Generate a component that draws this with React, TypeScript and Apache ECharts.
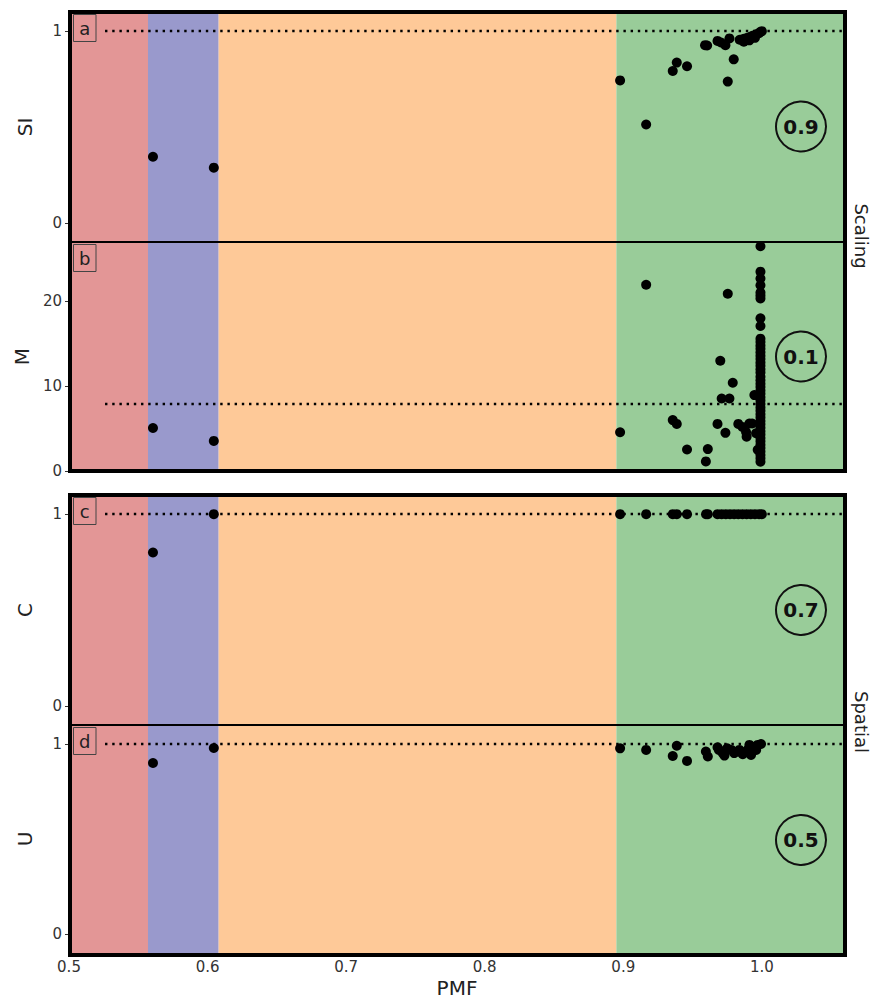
import React, { useEffect, useRef } from "react";
import * as echarts from "echarts";

// x axis
const xTicks = [0.5, 0.6, 0.7, 0.8, 0.9, 1.0];
const xMin = 0.5;
const xMax = 1.06;

// background regime bands
const bandEdges = [0.5, 0.557, 0.608, 0.895, 1.06];
const bandColors = ["#e39696", "#9999cc", "#fec998", "#99cc99"];

// panel labels / names
const panelLetters = ["a", "b", "c", "d"];
const panelNames = ["SI", "M", "C", "U"];
const panelScores = ["0.9", "0.1", "0.7", "0.5"];
const groupNames = ["Scaling", "Spatial"];
const refValues = [1, 7.9, 1, 1];
const refStartX = 0.526;

// y ticks per panel
const siTicks = [0, 1];
const mTicks = [0, 10, 20];
const cTicks = [0, 1];
const uTicks = [0, 1];

// Panel a: SI
const siX = [0.5606, 0.6045, 0.8977, 0.9165, 0.9357, 0.9386, 0.946, 0.959, 0.9605, 0.968, 0.9705, 0.9737, 0.9766, 0.9797, 0.9754, 0.984, 0.986, 0.988, 0.99, 0.992, 0.994, 0.996, 0.998, 0.999, 1.0, 0.987, 0.991, 0.995];
const siY = [0.345, 0.288, 0.743, 0.513, 0.792, 0.836, 0.817, 0.927, 0.925, 0.949, 0.941, 0.927, 0.962, 0.853, 0.737, 0.955, 0.958, 0.962, 0.966, 0.972, 0.978, 0.984, 0.99, 0.996, 1.0, 0.945, 0.952, 0.965];

// Panel b: M (scattered points)
const mX = [0.5606, 0.6045, 0.8977, 0.9165, 0.9754, 0.97, 0.979, 0.971, 0.9766, 0.9946, 0.9357, 0.9386, 0.968, 0.9737, 0.983, 0.986, 0.9886, 0.989, 0.991, 0.993, 0.9958, 0.997, 0.961, 0.9596, 0.946];
const mY = [5.07, 3.55, 4.57, 21.96, 20.9, 13.0, 10.4, 8.55, 8.55, 8.95, 6.0, 5.55, 5.55, 4.5, 5.55, 5.2, 4.6, 4.05, 5.6, 5.6, 4.45, 2.5, 2.58, 1.13, 2.53];
// Panel b: M values of the runs with PMF ~ 0.999
const mColumnX = 0.999;
const mColumnY = [26.5, 23.5, 22.7, 21.9, 21.05, 20.7, 20.35, 18.0, 17.1, 15.6, 15.2, 14.8, 14.4, 14.0, 13.6, 13.2, 12.8, 12.4, 12.0, 11.6, 11.1, 10.7, 10.3, 9.9, 9.5, 9.1, 8.7, 8.3, 7.9, 7.5, 7.1, 6.7, 6.3, 5.9, 5.5, 5.1, 4.7, 4.3, 3.9, 3.5, 3.1, 2.7, 2.3, 1.9, 1.5, 1.1];

// Panel c: C
const cX = [0.5606, 0.6045, 0.8977, 0.9165, 0.9357, 0.9386, 0.946, 0.9597, 0.961, 0.968, 0.971, 0.974, 0.977, 0.98, 0.983, 0.986, 0.989, 0.992, 0.995, 0.998, 1.0];
const cY = [0.8, 1, 1, 1, 1, 1, 1, 1, 1, 1, 1, 1, 1, 1, 1, 1, 1, 1, 1, 1, 1];

// Panel d: U
const uX = [0.5606, 0.6045, 0.8977, 0.9165, 0.9386, 0.9357, 0.946, 0.9596, 0.961, 0.968, 0.969, 0.9717, 0.973, 0.975, 0.978, 0.98, 0.9826, 0.9838, 0.9862, 0.9886, 0.991, 0.9935, 0.9959, 0.997, 0.9994, 0.9898, 0.9922];
const uY = [0.9, 0.979, 0.977, 0.969, 0.991, 0.937, 0.911, 0.96, 0.934, 0.983, 0.969, 0.952, 0.939, 0.977, 0.969, 0.952, 0.96, 0.969, 0.946, 0.96, 0.995, 0.986, 0.969, 0.995, 1.0, 0.969, 0.942];

const FONT = "DejaVu Sans";

export default function App() {
  const ref = useRef<HTMLDivElement>(null);

  useEffect(() => {
    document.body.style.margin = "0";
    if (!ref.current) return;
    const chart = echarts.init(ref.current, undefined, { renderer: "svg" });

    const grids = [
      { left: 69, width: 776, top: 12, height: 230 },
      { left: 69, width: 776, top: 242, height: 229 },
      { left: 69, width: 776, top: 495, height: 230 },
      { left: 69, width: 776, top: 725, height: 230 },
    ];
    const yRanges = [
      [-0.1, 1.1],
      [0, 27],
      [-0.1, 1.1],
      [-0.1, 1.1],
    ];
    const yTicks = [siTicks, mTicks, cTicks, uTicks];
    const pts = [
      siX.map((x, i) => [x, siY[i]]),
      mX.map((x, i) => [x, mY[i]]).concat(mColumnY.map((y) => [mColumnX, y])),
      cX.map((x, i) => [x, cY[i]]),
      uX.map((x, i) => [x, uY[i]]),
    ];

    const xAxes = grids.map((_, i) => ({
      type: "value",
      gridIndex: i,
      min: xMin,
      max: xMax,
      show: i === 3,
      name: i === 3 ? "PMF" : "",
      nameLocation: "middle",
      nameGap: 25,
      nameTextStyle: { fontFamily: FONT, fontSize: 20, color: "#222" },
      axisLine: { show: false },
      splitLine: { show: false },
      axisTick: {
        show: true,
        length: 4,
        lineStyle: { color: "#333" },
        customValues: xTicks,
      },
      axisLabel: {
        fontFamily: FONT,
        fontSize: 15,
        color: "#333",
        margin: 6,
        customValues: xTicks,
        formatter: (v: number) => v.toFixed(1),
      },
    }));

    const yAxes = grids.map((_, i) => ({
      type: "value",
      gridIndex: i,
      min: yRanges[i][0],
      max: yRanges[i][1],
      name: panelNames[i],
      nameLocation: "middle",
      nameGap: 34,
      nameTextStyle: { fontFamily: FONT, fontSize: 20, color: "#222" },
      axisLine: { show: false },
      splitLine: { show: false },
      axisTick: {
        show: true,
        length: 4,
        lineStyle: { color: "#333" },
        customValues: yTicks[i],
      },
      axisLabel: {
        fontFamily: FONT,
        fontSize: 15,
        color: "#333",
        margin: 7,
        customValues: yTicks[i],
      },
    }));

    const series = grids.map((_, i) => ({
      type: "scatter",
      xAxisIndex: i,
      yAxisIndex: i,
      symbolSize: 10,
      itemStyle: { color: "#000", opacity: 1 },
      data: pts[i],
      z: 5,
      markArea: {
        silent: true,
        z: 1,
        data: bandColors.map((c, k) => [
          { xAxis: bandEdges[k], itemStyle: { color: c, opacity: 1 } },
          { xAxis: bandEdges[k + 1] },
        ]),
      },
      markLine: {
        silent: true,
        symbol: "none",
        z: 3,
        label: { show: false },
        lineStyle: { color: "#000", width: 2.4, type: [2.4, 4.8], opacity: 1 },
        data: [[{ coord: [refStartX, refValues[i]] }, { coord: [xMax, refValues[i]] }]],
      },
    }));

    const graphics: any[] = [];
    // frames
    [[12, 471, 242], [495, 955, 725]].forEach(([t, b, mid]) => {
      graphics.push({
        type: "rect",
        z: 100,
        shape: { x: 70, y: t, width: 775, height: b - t },
        style: { fill: "none", stroke: "#000", lineWidth: 4 },
      });
      graphics.push({
        type: "line",
        z: 100,
        shape: { x1: 70, y1: mid, x2: 845, y2: mid },
        style: { stroke: "#000", lineWidth: 1.8 },
      });
    });
    // letter boxes and score circles
    const circleY = [126.5, 356.5, 610, 840];
    grids.forEach((g, i) => {
      graphics.push({
        type: "rect",
        z: 101,
        shape: { x: 73.5, y: g.top + 2.5, width: 22.5, height: 27 },
        style: { fill: "none", stroke: "#444", lineWidth: 1 },
      });
      graphics.push({
        type: "text",
        z: 101,
        x: 84.75,
        y: g.top + 16,
        style: {
          text: panelLetters[i],
          fontFamily: FONT,
          fontSize: 18,
          fill: "#222",
          align: "center",
          verticalAlign: "middle",
        },
      });
      graphics.push({
        type: "circle",
        z: 101,
        shape: { cx: 801, cy: circleY[i], r: 25 },
        style: { fill: "none", stroke: "#111", lineWidth: 2 },
      });
      graphics.push({
        type: "text",
        z: 101,
        x: 801,
        y: circleY[i],
        style: {
          text: panelScores[i],
          fontFamily: FONT,
          fontSize: 20,
          fontWeight: "bold",
          fill: "#111",
          align: "center",
          verticalAlign: "middle",
        },
      });
    });
    // right-side group labels
    [[236, 0], [722, 1]].forEach(([y, k]) => {
      graphics.push({
        type: "text",
        z: 101,
        x: 861,
        y,
        rotation: -Math.PI / 2,
        style: {
          text: groupNames[k],
          fontFamily: FONT,
          fontSize: 18,
          fill: "#222",
          align: "center",
          verticalAlign: "middle",
        },
      });
    });

    chart.setOption({
      animation: false,
      backgroundColor: "#fff",
      grid: grids,
      xAxis: xAxes,
      yAxis: yAxes,
      series,
      graphic: graphics,
    });

    return () => chart.dispose();
  }, []);

  return <div ref={ref} style={{ width: 872, height: 999 }} />;
}
